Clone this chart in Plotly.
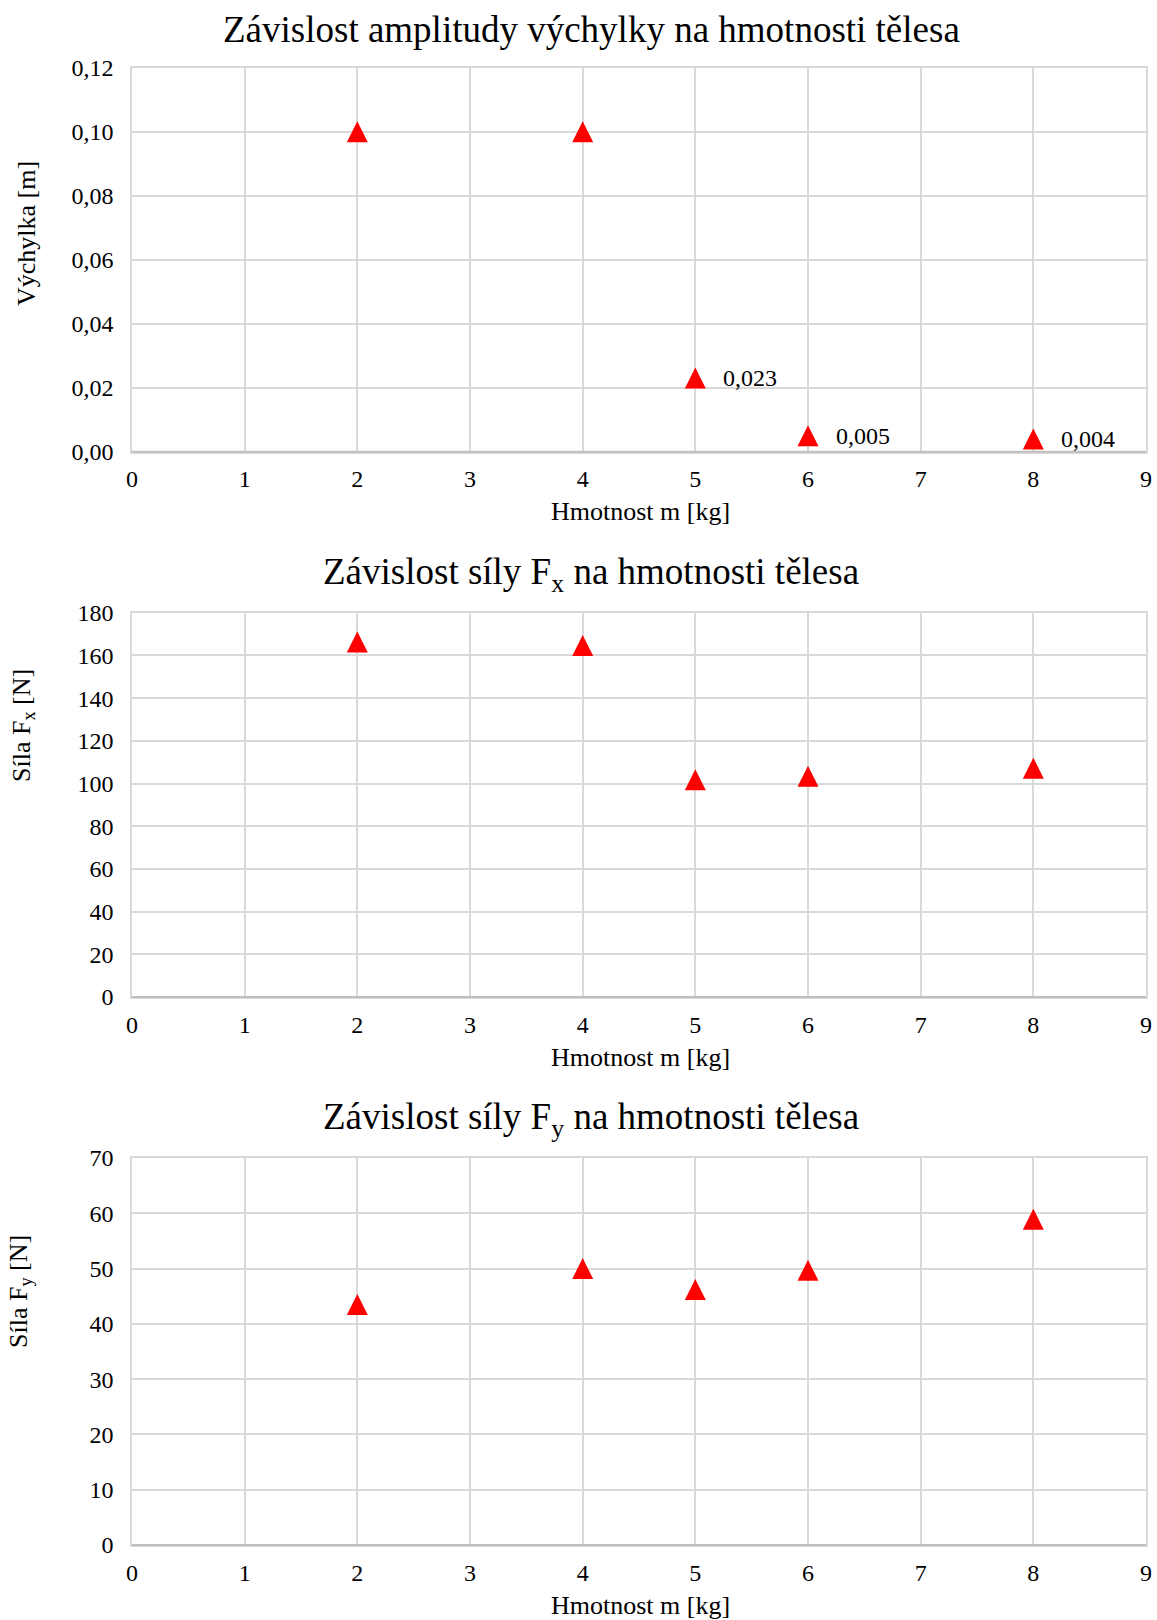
import plotly.graph_objects as go

# ---------------- data ----------------
mass = [2, 4, 5, 6, 8]
amplitude = [0.100, 0.100, 0.023, 0.005, 0.004]
amp_show_label = [False, False, True, True, True]
force_x = [166.3, 164.6, 101.8, 103.4, 107.2]
force_y = [43.5, 50.0, 46.2, 49.7, 58.9]

x_ticks = [0, 1, 2, 3, 4, 5, 6, 7, 8, 9]
amp_ticks = [0.00, 0.02, 0.04, 0.06, 0.08, 0.10, 0.12]
fx_ticks = [0, 20, 40, 60, 80, 100, 120, 140, 160, 180]
fy_ticks = [0, 10, 20, 30, 40, 50, 60, 70]

chart_titles = [
    "Závislost amplitudy výchylky na hmotnosti tělesa",
    "Závislost síly F<sub>x</sub> na hmotnosti tělesa",
    "Závislost síly F<sub>y</sub> na hmotnosti tělesa",
]
y_titles = ["Výchylka [m]", "Síla F<sub>x</sub> [N]", "Síla F<sub>y</sub> [N]"]
x_title = "Hmotnost m [kg]"

# ---------------- layout constants (pixels) ----------------
W, H = 1157, 1620
PLOT_L, PLOT_R = 132, 1146
panels = [
    dict(top=67.7, bottom=451.7, title_y=29, ytitle_x=27, ytitle_y=234),
    dict(top=612.7, bottom=997, title_y=574, ytitle_x=23, ytitle_y=726),
    dict(top=1158, bottom=1545, title_y=1119, ytitle_x=20, ytitle_y=1292),
]
FONT = "Liberation Serif, Times New Roman, serif"
GRID = "#d9d9d9"
RED = "#ff0000"
TICK_SIZE = 24
AXT_SIZE = 26
TITLE_SIZE = 37


def py(p):
    return 1 - p / H


def px(p):
    return p / W


series = [amplitude, force_x, force_y]
yticks = [amp_ticks, fx_ticks, fy_ticks]
yfmt = [".2f", "d", "d"]

fig = go.Figure()
annotations = []
shapes = []

for i, (vals, tv, fmt, pnl) in enumerate(zip(series, yticks, yfmt, panels)):
    n = "" if i == 0 else str(i + 1)
    fig.add_trace(go.Scatter(
        x=mass, y=vals, mode="markers",
        marker=dict(symbol="arrow-down", angle=180, standoff=10.5, size=21,
                    color=RED, line=dict(width=0)),
        xaxis="x" + n, yaxis="y" + n, showlegend=False, cliponaxis=False,
        hoverinfo="x+y",
    ))
    xa = dict(
        domain=[px(PLOT_L), px(PLOT_R)], range=[0, 9], tickvals=x_ticks,
        showgrid=True, gridcolor=GRID, gridwidth=1.5, zeroline=False,
        showline=True, mirror=True, linecolor=GRID, linewidth=1.5,
        ticks="", ticklabelstandoff=5, automargin=False,
        tickfont=dict(family=FONT, size=TICK_SIZE, color="#000"),
        anchor="y" + n, fixedrange=True,
    )
    ya = dict(
        domain=[py(pnl["bottom"]), py(pnl["top"])], range=[tv[0], tv[-1]],
        tickvals=tv, tickformat=fmt,
        showgrid=True, gridcolor=GRID, gridwidth=1.5, zeroline=False,
        showline=True, mirror=True, linecolor=GRID, linewidth=1.5,
        ticks="", ticklabelstandoff=12, automargin=False,
        tickfont=dict(family=FONT, size=TICK_SIZE, color="#000"),
        anchor="x" + n, fixedrange=True,
    )
    fig.update_layout({"xaxis" + n: xa, "yaxis" + n: ya})

    # darker bottom axis line
    shapes.append(dict(type="line", xref="paper", yref="paper",
                       x0=px(PLOT_L), x1=px(PLOT_R),
                       y0=py(pnl["bottom"]), y1=py(pnl["bottom"]),
                       line=dict(color="#bfbfbf", width=2)))

    # chart title
    annotations.append(dict(text=chart_titles[i], xref="paper", yref="paper",
                            x=px(591), y=py(pnl["title_y"]),
                            xanchor="center", yanchor="middle", showarrow=False,
                            font=dict(family=FONT, size=TITLE_SIZE, color="#000")))
    # x axis title
    annotations.append(dict(text=x_title, xref="paper", yref="paper",
                            x=px(640), y=py(pnl["bottom"] + 60),
                            xanchor="center", yanchor="middle", showarrow=False,
                            font=dict(family=FONT, size=AXT_SIZE, color="#000")))
    # y axis title
    annotations.append(dict(text=y_titles[i], xref="paper", yref="paper",
                            x=px(pnl["ytitle_x"]), y=py(pnl["ytitle_y"]),
                            xanchor="center", yanchor="middle", textangle=-90,
                            showarrow=False,
                            font=dict(family=FONT, size=AXT_SIZE, color="#000")))

# data labels on amplitude chart
for xv, yv, show in zip(mass, amplitude, amp_show_label):
    if show:
        annotations.append(dict(text=f"{yv:.3f}".replace(".", ","),
                                xref="x", yref="y", x=xv, y=yv,
                                xanchor="left", yanchor="middle", xshift=26,
                                showarrow=False,
                                font=dict(family=FONT, size=TICK_SIZE, color="#000")))

fig.update_layout(
    template="none",
    width=W, height=H, margin=dict(l=0, r=0, t=0, b=0, autoexpand=False),
    paper_bgcolor="white", plot_bgcolor="white",
    separators=",.",
    annotations=annotations, shapes=shapes,
    font=dict(family=FONT, color="#000"),
)

fig.write_html(
    "out.html",
    config={"displayModeBar": False},
    post_script="document.body.style.margin='0';document.body.style.overflow='hidden';",
)
